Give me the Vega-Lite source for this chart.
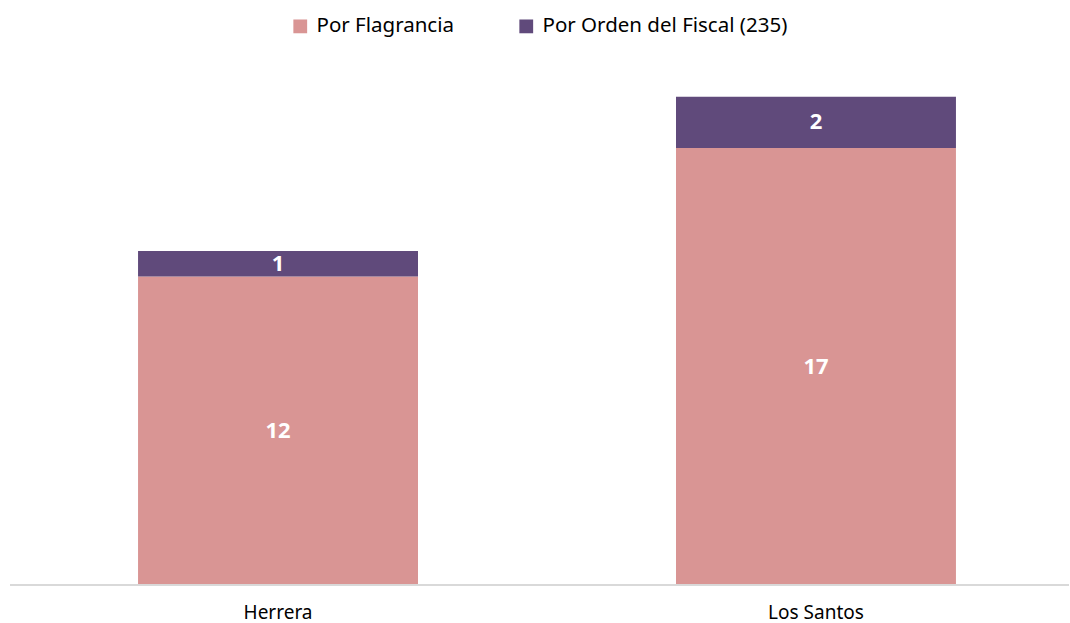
{
  "$schema": "https://vega.github.io/schema/vega-lite/v6.json",
  "autosize": "none",
  "width": 1059,
  "height": 514,
  "padding": {"left": 10, "top": 71, "right": 1, "bottom": 38},
  "background": "white",
  "config": {"view": {"stroke": null}, "font": "Noto Sans"},
  "data": {"values": [
    {"region": "Herrera", "tipo": "Por Flagrancia", "value": 12, "orden": 1},
    {"region": "Herrera", "tipo": "Por Orden del Fiscal (235)", "value": 1, "orden": 2},
    {"region": "Los Santos", "tipo": "Por Flagrancia", "value": 17, "orden": 1},
    {"region": "Los Santos", "tipo": "Por Orden del Fiscal (235)", "value": 2, "orden": 2}
  ]},
  "layer": [
    {
      "mark": {"type": "bar"},
      "encoding": {
        "x": {"field": "region", "type": "nominal", "sort": null,
          "scale": {"range": [14, 1060], "paddingInner": 0.4796, "paddingOuter": 0.212},
          "axis": {"title": null, "labelAngle": 0, "ticks": false, "domain": false,
            "labelFontSize": 19, "labelColor": "#000000", "labelPadding": 18, "labelFont": "Noto Sans"}},
        "y": {"field": "value", "type": "quantitative", "stack": "zero", "scale": {"domain": [0, 20], "nice": false}, "axis": null},
        "order": {"field": "orden", "type": "quantitative"},
        "color": {"field": "tipo", "type": "nominal",
          "scale": {"domain": ["Por Flagrancia", "Por Orden del Fiscal (235)"], "range": ["#D99594", "#604A7B"]},
          "legend": {"title": null, "orient": "none", "direction": "horizontal", "legendX": 280, "legendY": -55,
            "symbolType": "square", "symbolSize": 190, "symbolStrokeWidth": 0, "symbolOpacity": 1, "labelLimit": 400,
            "labelFontSize": 20.5, "labelColor": "#000000", "labelFont": "Noto Sans", "columnPadding": 62, "labelOffset": 6}}
      }
    },
    {
      "mark": {"type": "rule", "color": "#d9d9d9", "strokeWidth": 1.5},
      "encoding": {"y": {"datum": 0}}
    },
    {
      "transform": [
        {"stack": "value", "groupby": ["region"], "sort": [{"field": "orden", "order": "ascending"}], "as": ["y0", "y1"]},
        {"fold": ["y0", "y1"], "as": ["k", "b"]}
      ],
      "mark": {"type": "text", "color": "white", "fontSize": 22, "fontWeight": "bold", "font": "Noto Sans", "baseline": "middle"},
      "encoding": {
        "x": {"field": "region", "type": "nominal", "sort": null},
        "y": {"aggregate": "mean", "field": "b", "type": "quantitative", "scale": {"domain": [0, 20], "nice": false}},
        "text": {"field": "value", "type": "quantitative"}
      }
    }
  ]
}
